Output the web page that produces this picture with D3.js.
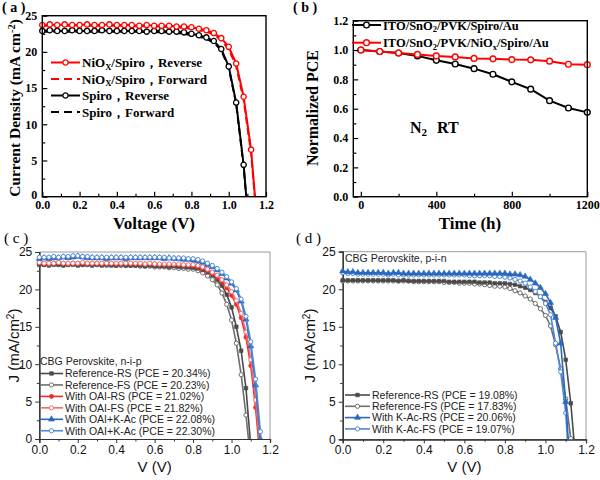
<!DOCTYPE html>
<html><head><meta charset="utf-8">
<script src="https://cdn.jsdelivr.net/npm/d3@7"></script>
<style>body{margin:0;background:#fff}svg{display:block}</style>
</head><body>
<svg id="fig" width="600" height="480"></svg>
<script>
// ---------- DATA ----------
// (a) J-V, voltage grid (V) and current densities (mA cm^-2)
const vA = [0,0.04,0.08,0.12,0.16,0.2,0.24,0.28,0.32,0.36,0.4,0.44,0.48,0.52,0.56,0.6,0.64,0.68,0.72,0.76,0.8,0.84,0.88,0.92,0.96,1.0,1.04,1.08,1.12,1.16];
const jNiOxRev = [23.7,23.8,23.7,23.8,23.7,23.7,23.8,23.7,23.7,23.8,23.7,23.7,23.7,23.6,23.7,23.6,23.6,23.6,23.5,23.5,23.4,23.2,23.0,22.6,21.9,20.7,18.4,13.8,6.5,-6];
const jNiOxFwd = [23.6,23.6,23.7,23.6,23.6,23.7,23.6,23.6,23.6,23.6,23.6,23.6,23.5,23.6,23.5,23.5,23.5,23.4,23.4,23.3,23.2,23.0,22.8,22.4,21.6,20.4,18.0,13.4,6.0,-6];
const jSpiroRev = [22.9,23.0,22.9,22.9,23.0,22.9,22.9,22.9,23.0,22.9,22.9,22.9,22.9,22.9,22.8,22.9,22.9,22.8,22.8,22.7,22.5,22.3,22.0,21.5,20.4,18.0,13.0,4.4,-8,-20];
const jSpiroFwd = [22.8,22.8,22.8,22.8,22.8,22.8,22.8,22.8,22.8,22.8,22.8,22.8,22.8,22.8,22.7,22.7,22.7,22.7,22.6,22.5,22.3,22.1,21.8,21.3,20.2,17.8,12.8,4.2,-8,-20];
const legendA = ["NiOX/Spiro，Reverse","NiOX/Spiro，Forward","Spiro，Reverse","Spiro，Forward"];

// (b) stability
const tB = [0,100,200,300,400,500,600,700,800,900,1000,1100,1200];
const pceSpiro = [1.0,0.99,0.98,0.96,0.93,0.905,0.873,0.835,0.783,0.733,0.655,0.605,0.575];
const pceNiOx  = [1.0,0.99,0.98,0.97,0.96,0.953,0.943,0.94,0.935,0.933,0.924,0.903,0.9];

// (c),(d) J-V, shared voltage grid
const vGrid = [0,0.025,0.05,0.075,0.1,0.125,0.15,0.175,0.2,0.225,0.25,0.275,0.3,0.325,0.35,0.375,0.4,0.425,0.45,0.475,0.5,0.525,0.55,0.575,0.6,0.625,0.65,0.675,0.7,0.725,0.75,0.775,0.8,0.825,0.85,0.875,0.9,0.925,0.95,0.975,1.0,1.025,1.05,1.075,1.1,1.125,1.15,1.175];
const cRefRS = [23.3,23.3,23.2,23.3,23.3,23.2,23.3,23.3,23.2,23.3,23.3,23.2,23.3,23.2,23.3,23.2,23.2,23.3,23.2,23.2,23.2,23.2,23.1,23.2,23.1,23.1,23.1,23.0,23.1,23.0,23.0,22.95,22.9,22.8,22.6,22.3,21.9,21.3,20.5,19.3,17.6,15.0,11.8,6.8,-1.0,-10,-20,-30];
const cRefFS = [23.4,23.3,23.3,23.4,23.3,23.3,23.3,23.4,23.3,23.3,23.3,23.3,23.3,23.3,23.2,23.3,23.2,23.2,23.2,23.2,23.2,23.1,23.1,23.1,23.0,23.0,23.0,22.9,22.9,22.8,22.8,22.7,22.7,22.5,22.2,21.8,21.3,20.6,19.5,18.0,15.9,12.8,8.6,3.2,-3,-12,-20,-30];
const cOaiRS = [23.5,23.5,23.4,23.5,23.5,23.5,23.4,23.5,23.5,23.5,23.4,23.5,23.5,23.4,23.5,23.5,23.4,23.4,23.5,23.4,23.4,23.4,23.4,23.4,23.4,23.3,23.3,23.3,23.3,23.3,23.2,23.2,23.2,23.0,22.8,22.5,22.1,21.6,21.0,20.2,19.2,18.0,16.2,13.6,9.8,4.2,-3,-12];
const cOaiFS = [23.6,23.5,23.5,23.5,23.6,23.5,23.5,23.5,23.5,23.6,23.5,23.5,23.5,23.5,23.5,23.5,23.5,23.5,23.5,23.5,23.5,23.5,23.4,23.5,23.4,23.4,23.4,23.4,23.4,23.4,23.3,23.3,23.3,23.2,23.0,22.7,22.3,21.9,21.3,20.6,19.7,18.5,16.8,14.3,10.6,5.2,-2,-12];
const cKacRS = [24.1,24.2,24.1,24.2,24.2,24.3,24.2,24.3,24.4,24.3,24.2,24.2,24.2,24.2,24.1,24.2,24.2,24.2,24.1,24.2,24.2,24.2,24.2,24.2,24.2,24.2,24.1,24.2,24.1,24.1,24.0,24.0,23.9,23.8,23.6,23.3,23.0,22.6,22.1,21.5,20.8,19.9,18.4,16.0,12.4,7.2,0.0,-8];
const cKacFS = [24.3,24.3,24.3,24.4,24.3,24.4,24.4,24.5,24.5,24.4,24.4,24.3,24.3,24.3,24.3,24.3,24.3,24.3,24.3,24.3,24.3,24.3,24.3,24.3,24.3,24.3,24.3,24.2,24.2,24.2,24.2,24.1,24.1,24.0,23.8,23.5,23.2,22.8,22.3,21.7,21.0,20.1,18.7,16.4,13.0,8.0,1.0,-8];
const legendC = ["Reference-RS (PCE = 20.34%)","Reference-FS (PCE = 20.23%)","With OAI-RS (PCE = 21.02%)","With OAI-FS (PCE = 21.82%)","With OAI+K-Ac (PCE = 22.08%)","With OAI+K-Ac (PCE = 22.30%)"];

const dRefRS = [21.2,21.2,21.2,21.2,21.2,21.2,21.2,21.2,21.2,21.2,21.2,21.1,21.2,21.1,21.1,21.1,21.1,21.1,21.1,21.1,21.1,21.0,21.0,21.0,21.0,21.0,21.0,20.9,20.9,20.9,20.8,20.8,20.8,20.7,20.6,20.4,20.2,19.9,19.5,19.0,18.3,17.5,16.4,14.3,10.6,4.8,-3,-12];
const dRefFS = [21.1,21.1,21.1,21.1,21.1,21.1,21.1,21.1,21.1,21.1,21.1,21.1,21.1,21.1,21.0,21.0,21.0,21.0,21.0,21.0,20.9,20.9,20.9,20.8,20.8,20.8,20.7,20.7,20.6,20.5,20.4,20.4,20.3,20.1,19.8,19.5,19.1,18.7,18.1,17.4,16.5,15.1,12.6,9.4,5.4,0.1,-6,-14];
const dKacRS = [22.4,22.3,22.3,22.2,22.2,22.2,22.2,22.2,22.2,22.1,22.2,22.2,22.1,22.1,22.1,22.1,22.1,22.1,22.1,22.1,22.1,22.1,22.1,22.1,22.1,22.1,22.1,22.1,22.1,22.1,22.1,22.1,22.1,22.0,22.0,21.9,21.7,21.3,20.8,20.2,19.4,18.2,16.2,12.8,5.0,-5,-15,-25];
const dKacFS = [22.2,22.1,22.1,22.0,22.0,22.0,22.0,22.0,22.0,21.9,22.0,21.9,21.9,21.9,21.9,21.9,21.9,21.9,21.9,21.9,21.9,21.9,21.9,21.9,21.9,21.8,21.8,21.8,21.8,21.8,21.7,21.7,21.6,21.5,21.3,21.1,20.8,20.3,19.7,19.0,18.1,16.6,12.8,9.0,3.5,-7,-17,-27];
const legendD = ["Reference-RS (PCE = 19.08%)","Reference-FS (PCE = 17.83%)","With K-Ac-RS (PCE = 20.06%)","With K-Ac-FS (PCE = 19.07%)"];

const jvTicks = [0,0.2,0.4,0.6,0.8,1.0,1.2];
const jTicks = [0,5,10,15,20,25];
const pceTicks = [0,0.2,0.4,0.6,0.8,1.0,1.2];
const timeTicks = [0,400,800,1200];

// ---------- DRAW ----------
const svg = d3.select("#fig");
const SERIF = "'Liberation Serif','Times New Roman',serif";
const SANS = "'Liberation Sans',Arial,sans-serif";
let clipId = 0;

function clip(x0,y0,x1,y1){
  const id = "clip"+(clipId++);
  svg.append("clipPath").attr("id",id).append("rect").attr("x",x0).attr("y",y0).attr("width",x1-x0).attr("height",y1-y0);
  return svg.append("g").attr("clip-path",`url(#${id})`);
}
function series(g,x,y,vs,js,o){
  const data = vs.map((v,i)=>({v,j:js[i]}));
  g.append("path").datum(data).attr("fill","none").attr("stroke",o.color).attr("stroke-width",o.lw)
    .attr("stroke-dasharray",o.dash||null).attr("stroke-linejoin","round")
    .attr("d",d3.line().x(d=>x(d.v)).y(d=>y(d.j)));
  if(o.marker){
    g.append("g").selectAll("path").data(data).join("path")
      .attr("transform",d=>`translate(${x(d.v)},${y(d.j)})`)
      .attr("d",d3.symbol(o.marker,o.size))
      .attr("fill",o.fill).attr("stroke",o.mstroke||o.color).attr("stroke-width",o.mlw);
  }
}
function legendRow(g,x0,x1,yc,o){
  g.append("line").attr("x1",x0).attr("x2",x1).attr("y1",yc).attr("y2",yc)
    .attr("stroke",o.color).attr("stroke-width",o.lw).attr("stroke-dasharray",o.dash||null);
  if(o.marker) g.append("path").attr("transform",`translate(${(x0+x1)/2},${yc})`)
    .attr("d",d3.symbol(o.marker,o.size)).attr("fill",o.fill).attr("stroke",o.color).attr("stroke-width",o.mlw);
}

// ===== Panel (a) =====
{
  const x = d3.scaleLinear([0,1.2],[42.3,266]);
  const y = d3.scaleLinear([0,25],[196.7,15.7]);
  const g = clip(36,5,266,196.7);
  series(g,x,y,vA,jSpiroFwd,{color:"#000",lw:2,dash:"7,4"});
  series(g,x,y,vA,jNiOxFwd,{color:"#ff0000",lw:2,dash:"7,4"});
  series(g,x,y,vA,jSpiroRev,{color:"#000",lw:2,marker:d3.symbolCircle,size:22,fill:"#fff",mlw:1.3});
  series(g,x,y,vA,jNiOxRev,{color:"#ff0000",lw:2,marker:d3.symbolCircle,size:22,fill:"#fff",mlw:1.3});
  const ax = svg.append("g");
  ax.append("g").attr("transform","translate(0,196.7)").call(d3.axisBottom(x).tickValues(jvTicks).tickSize(-5).tickPadding(4).tickFormat(d3.format(".1f")));
  ax.append("g").attr("transform","translate(0,196.7)").call(d3.axisBottom(x).tickValues([0.1,0.3,0.5,0.7,0.9,1.1]).tickSize(-3).tickFormat(""));
  const yAx = ax.append("g").attr("transform","translate(42.3,0)").call(d3.axisLeft(y).tickValues(jTicks).tickSize(-5).tickPadding(5));
  ax.append("g").attr("transform","translate(42.3,0)").call(d3.axisLeft(y).tickValues([2.5,7.5,12.5,17.5,22.5]).tickSize(-3).tickFormat(""));
  ax.selectAll(".domain").remove();
  ax.selectAll(".tick line").attr("stroke","#000").attr("stroke-width",1.2);
  ax.selectAll("text").attr("font-size",12).attr("fill","#000").attr("font-family",SERIF).attr("font-weight","bold");
  yAx.selectAll(".tick text").filter(d=>d===0).attr("y",-2.5);
  svg.append("rect").attr("x",42.3).attr("y",15.7).attr("width",266-42.3).attr("height",196.7-15.7).attr("fill","none").attr("stroke","#000").attr("stroke-width",1.4);
  svg.append("text").attr("x",154).attr("y",229).attr("text-anchor","middle").attr("font-family",SERIF).attr("font-weight","bold").attr("font-size",17).text("Voltage (V)");
  const yt = svg.append("text").attr("transform","translate(20,108) rotate(-90)").attr("text-anchor","middle").attr("font-family",SERIF).attr("font-weight","bold").attr("font-size",15.5);
  yt.append("tspan").text("Current Density (mA cm");
  yt.append("tspan").attr("dy",-5).attr("font-size",10.5).text("-2");
  yt.append("tspan").attr("dy",5).text(")");
  svg.append("text").attr("x",2).attr("y",12).attr("font-family",SERIF).attr("font-weight","bold").attr("font-size",14).text("( a )");
  // legend
  const lg = svg.append("g");
  const rows = [62.5,79,95.5,112];
  const styles = [{color:"#ff0000",lw:2,marker:d3.symbolCircle,size:22,fill:"#fff",mlw:1.3},{color:"#ff0000",lw:2,dash:"8,5"},{color:"#000",lw:2,marker:d3.symbolCircle,size:22,fill:"#fff",mlw:1.3},{color:"#000",lw:2,dash:"8,5"}];
  legendA.forEach((t,i)=>{
    legendRow(lg,51,80,rows[i],styles[i]);
    const tx = lg.append("text").attr("x",82).attr("y",rows[i]+4.5).attr("font-family",SERIF).attr("font-weight","bold").attr("font-size",13);
    if(t.startsWith("NiOX")){
      tx.append("tspan").text("NiO");
      tx.append("tspan").attr("dy",2.5).attr("font-size",8.5).text("X");
      tx.append("tspan").attr("dy",-2.5).text(t.slice(4));
    } else tx.text(t);
  });
}

// ===== Panel (b) =====
{
  const x = d3.scaleLinear([-40,1200],[353.3,587.3]);
  const y = d3.scaleLinear([0,1.2],[196.7,20.7]);
  const g = svg.append("g");
  series(g,x,y,tB,pceSpiro,{color:"#000",lw:2,marker:d3.symbolCircle,size:26,fill:"#fff",mlw:1.4});
  series(g,x,y,tB,pceNiOx,{color:"#ff0000",lw:2,marker:d3.symbolCircle,size:26,fill:"#fff",mlw:1.4});
  const ax = svg.append("g");
  ax.append("g").attr("transform","translate(0,196.7)").call(d3.axisBottom(x).tickValues(timeTicks).tickSize(-5).tickPadding(4).tickFormat(d3.format("d")));
  ax.append("g").attr("transform","translate(0,196.7)").call(d3.axisBottom(x).tickValues([200,600,1000]).tickSize(-3).tickFormat(""));
  ax.append("g").attr("transform","translate(353.3,0)").call(d3.axisLeft(y).tickValues(pceTicks).tickSize(-5).tickPadding(5).tickFormat(d3.format(".1f")));
  ax.append("g").attr("transform","translate(353.3,0)").call(d3.axisLeft(y).tickValues([0.1,0.3,0.5,0.7,0.9,1.1]).tickSize(-3).tickFormat(""));
  ax.selectAll(".domain").remove();
  ax.selectAll(".tick line").attr("stroke","#000").attr("stroke-width",1.2);
  ax.selectAll("text").attr("font-size",12).attr("fill","#000").attr("font-family",SERIF).attr("font-weight","bold");
  svg.append("rect").attr("x",353.3).attr("y",20.7).attr("width",587.3-353.3).attr("height",196.7-20.7).attr("fill","none").attr("stroke","#000").attr("stroke-width",1.4);
  svg.append("text").attr("x",470).attr("y",229).attr("text-anchor","middle").attr("font-family",SERIF).attr("font-weight","bold").attr("font-size",17).text("Time (h)");
  svg.append("text").attr("transform","translate(318,108) rotate(-90)").attr("text-anchor","middle").attr("font-family",SERIF).attr("font-weight","bold").attr("font-size",16).text("Normalized PCE");
  svg.append("text").attr("x",293).attr("y",12).attr("font-family",SERIF).attr("font-weight","bold").attr("font-size",14).text("( b )");
  const n2 = svg.append("text").attr("x",410).attr("y",133).attr("font-family",SERIF).attr("font-weight","bold").attr("font-size",16);
  n2.append("tspan").text("N");
  n2.append("tspan").attr("dy",3).attr("font-size",11).text("2");
  n2.append("tspan").attr("dy",-3).attr("dx",10).text("RT");
  const lg = svg.append("g");
  legendRow(lg,352,381,25,{color:"#000",lw:2,marker:d3.symbolCircle,size:26,fill:"#fff",mlw:1.4});
  legendRow(lg,352,381,42.7,{color:"#ff0000",lw:2,marker:d3.symbolCircle,size:26,fill:"#fff",mlw:1.4});
  const t1 = lg.append("text").attr("x",383).attr("y",29.5).attr("font-family",SERIF).attr("font-weight","bold").attr("font-size",12.5);
  t1.append("tspan").text("ITO/SnO"); t1.append("tspan").attr("dy",2.5).attr("font-size",8.5).text("2"); t1.append("tspan").attr("dy",-2.5).text("/PVK/Spiro/Au");
  const t2 = lg.append("text").attr("x",383).attr("y",47.2).attr("font-family",SERIF).attr("font-weight","bold").attr("font-size",12.5);
  t2.append("tspan").text("ITO/SnO"); t2.append("tspan").attr("dy",2.5).attr("font-size",8.5).text("2"); t2.append("tspan").attr("dy",-2.5).text("/PVK/NiO");
  t2.append("tspan").attr("dy",2.5).attr("font-size",8.5).text("x"); t2.append("tspan").attr("dy",-2.5).text("/Spiro/Au");
}

// ===== Panels (c),(d) shared style =====
const GRAY="#4a4a4a", GRAYL="#6e6e6e", RED="#ee2a24", REDL="#f26a6a", BLUE="#2a68c0", BLUEL="#4f8ad6";
function jvPanel(px0,px1,py0,py1,label,lx,titleX){
  const x = d3.scaleLinear([0,1.2],[px0,px1]);
  const y = d3.scaleLinear([0,25],[py0,py1]);
  svg.append("line").attr("x1",px0).attr("x2",px1).attr("y1",py1).attr("y2",py1).attr("stroke","#9a9a9a").attr("stroke-width",1);
  svg.append("line").attr("x1",px1).attr("x2",px1).attr("y1",py1).attr("y2",py0).attr("stroke","#9a9a9a").attr("stroke-width",1);
  const ax = svg.append("g");
  ax.append("g").attr("transform",`translate(0,${py0})`).call(d3.axisBottom(x).tickValues(jvTicks).tickSize(4).tickPadding(2).tickFormat(d3.format(".1f")));
  ax.append("g").attr("transform",`translate(0,${py0})`).call(d3.axisBottom(x).tickValues([0.1,0.3,0.5,0.7,0.9,1.1]).tickSize(2.5).tickFormat(""));
  ax.append("g").attr("transform",`translate(${px0},0)`).call(d3.axisLeft(y).tickValues(jTicks).tickSize(4).tickPadding(3));
  ax.append("g").attr("transform",`translate(${px0},0)`).call(d3.axisLeft(y).tickValues([2.5,7.5,12.5,17.5,22.5]).tickSize(2.5).tickFormat(""));
  ax.selectAll(".domain").attr("stroke","#333").attr("stroke-width",1.2);
  ax.selectAll(".tick line").attr("stroke","#333").attr("stroke-width",1);
  ax.selectAll("text").attr("font-size",12).attr("fill","#111").attr("font-family",SANS);
  svg.append("text").attr("x",(px0+px1)/2).attr("y",472).attr("text-anchor","middle").attr("font-family",SANS).attr("font-size",15).attr("fill","#111").text("V (V)");
  const yt = svg.append("text").attr("transform",`translate(${titleX},${(py0+py1)/2}) rotate(-90)`).attr("text-anchor","middle").attr("font-family",SANS).attr("font-size",15).attr("fill","#111");
  yt.append("tspan").text("J (mA/cm");
  yt.append("tspan").attr("dy",-5).attr("font-size",10).text("2");
  yt.append("tspan").attr("dy",5).text(")");
  svg.append("text").attr("x",lx).attr("y",243).attr("font-family",SERIF).attr("font-size",15).text(label);
  return {x,y};
}
const sty = {
  refRS:{color:GRAY,lw:1.6,marker:d3.symbolSquare,size:13,fill:GRAY,mlw:0.6},
  refFS:{color:GRAYL,lw:1.6,marker:d3.symbolCircle,size:14,fill:"#fff",mlw:1},
  oaiRS:{color:RED,lw:1.6,marker:d3.symbolCircle,size:14,fill:RED,mlw:0.6},
  oaiFS:{color:REDL,lw:1.6,marker:d3.symbolCircle,size:14,fill:"#fff",mlw:1},
  kacRS:{color:BLUE,lw:1.6,marker:d3.symbolTriangle,size:16,fill:BLUE,mlw:0.6},
  kacFS:{color:BLUEL,lw:1.6,marker:d3.symbolCircle,size:14,fill:"#fff",mlw:1}
};

// ===== Panel (c) =====
{
  const {x,y} = jvPanel(39.3,270,439,252,"( c )",4,19);
  const g = clip(30,245,275,439);
  series(g,x,y,vGrid,cRefFS,sty.refFS);
  series(g,x,y,vGrid,cRefRS,sty.refRS);
  series(g,x,y,vGrid,cOaiRS,sty.oaiRS);
  series(g,x,y,vGrid,cOaiFS,sty.oaiFS);
  series(g,x,y,vGrid,cKacRS,sty.kacRS);
  series(g,x,y,vGrid,cKacFS,sty.kacFS);
  const lg = svg.append("g");
  lg.append("text").attr("x",40).attr("y",365).attr("font-family",SANS).attr("font-size",10.5).attr("fill","#222").text("CBG Perovskite, n-i-p");
  const ks = [sty.refRS,sty.refFS,sty.oaiRS,sty.oaiFS,sty.kacRS,sty.kacFS];
  legendC.forEach((t,i)=>{
    const yc = 373.5 + i*11.45;
    legendRow(lg,40,63,yc,ks[i]);
    lg.append("text").attr("x",65).attr("y",yc+3.8).attr("font-family",SANS).attr("font-size",10.5).attr("fill","#222").text(t);
  });
}

// ===== Panel (d) =====
{
  const {x,y} = jvPanel(342.7,586,439.3,251.7,"( d )",296,315);
  const g = clip(335,245,590,439.3);
  series(g,x,y,vGrid,dRefFS,sty.refFS);
  series(g,x,y,vGrid,dRefRS,sty.refRS);
  series(g,x,y,vGrid,dKacFS,sty.kacFS);
  series(g,x,y,vGrid,dKacRS,sty.kacRS);
  const lg = svg.append("g");
  lg.append("text").attr("x",345).attr("y",262).attr("font-family",SANS).attr("font-size",10.5).attr("fill","#222").text("CBG Perovskite, p-i-n");
  const ks = [sty.refRS,sty.refFS,sty.kacRS,sty.kacFS];
  legendD.forEach((t,i)=>{
    const yc = 395 + i*11.3;
    legendRow(lg,345,370,yc,ks[i]);
    lg.append("text").attr("x",372).attr("y",yc+3.8).attr("font-family",SANS).attr("font-size",10.5).attr("fill","#222").text(t);
  });
}
</script>
</body></html>
